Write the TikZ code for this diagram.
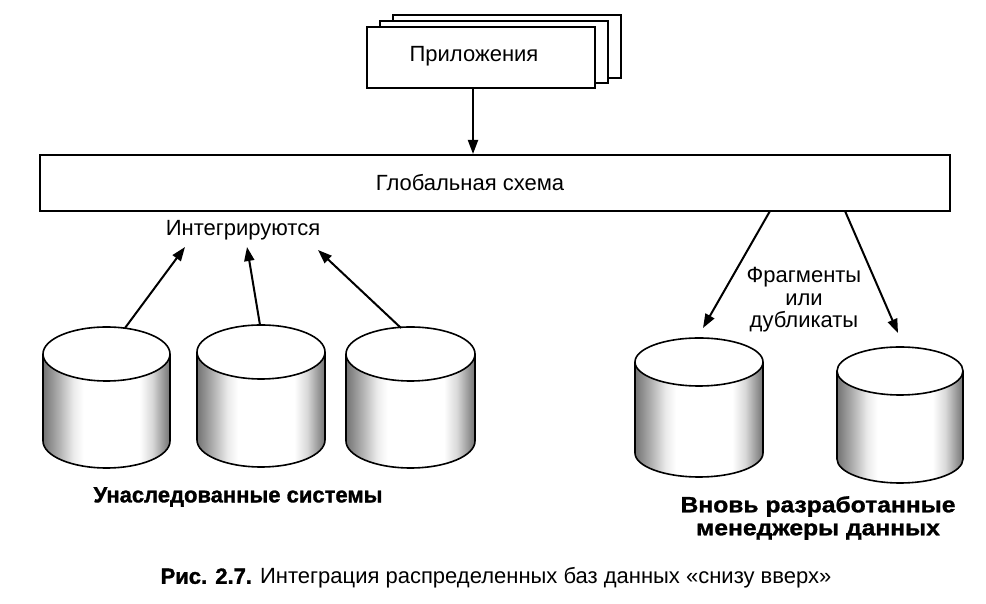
\documentclass[tikz,border=0pt]{standalone}
\usepackage{fontspec}
\setmainfont{Liberation Sans}
\newfontfamily\heavyfont[FakeBold=1.3]{Liberation Sans Bold}
\newfontfamily\heavywide[FakeBold=1.3,FakeStretch=1.12]{Liberation Sans Bold}
\usetikzlibrary{arrows.meta}
\pgfdeclarehorizontalshading{cylsh}{100bp}{color(0bp)=(black!55); color(25bp)=(black!55); color(31bp)=(black!32); color(37bp)=(black!8); color(41bp)=(white); color(63bp)=(white); color(68bp)=(black!15); color(72bp)=(black!38); color(75bp)=(black!55); color(100bp)=(black!55)}
\newcommand\dbcyl[5]{%
  \shade[shading=cylsh] (#1-#2,#3) -- (#1-#2,#4) arc[start angle=180,end angle=360,x radius=#2,y radius=#5] -- (#1+#2,#3) arc[start angle=0,end angle=180,x radius=#2,y radius=#5] -- cycle;
  \draw[line width=0.8pt] (#1-#2,#3) -- (#1-#2,#4) arc[start angle=180,end angle=360,x radius=#2,y radius=#5] -- (#1+#2,#3);
  \draw[line width=0.8pt,fill=white] (#1,#3) ellipse [x radius=#2, y radius=#5];
}
\begin{document}
\begin{tikzpicture}[x=0.5pt,y=0.5pt,
  box/.style={draw, fill=white, line width=1pt, inner sep=0pt},
  arr/.style={-{Triangle[length=7pt,width=5pt]}, line width=1pt},
  lbl/.style={font=\fontsize{11}{11.2}\selectfont, inner sep=0pt, align=center},
  blbl/.style={font=\heavyfont\fontsize{11}{11.5}\selectfont, inner sep=0pt, align=center}]
\useasboundingbox[fill=white] (0,0) rectangle (986,604);
% stacked application boxes
\draw[box] (393,526) rectangle (621,589);
\draw[box] (380,521) rectangle (608,583);
\node[box, minimum width=114pt, minimum height=30.5pt] (apps) at (481,546.5) {};
\node[lbl] (appstext) at (474,548) {Приложения};
% global schema
\node[box, minimum width=455pt, minimum height=28pt] (glob) at (495,421) {};
\node[lbl] (globtext) at (470,421) {Глобальная схема};
\coordinate (ax) at (473,0);
\draw[arr] (apps.south -| ax) -- (glob.north -| ax);
% cylinders
\dbcyl{106.5}{63.5}{250}{163}{27}
\dbcyl{261}{64}{252}{164}{27}
\dbcyl{410.5}{64.5}{250}{163}{27}
\dbcyl{699}{64}{242}{151}{24}
\dbcyl{900}{63}{233}{145}{24}
% labels
\node[lbl] (integ) at (243,374) {Интегрируются};
\node[lbl] (frag) at (804,304) {Фрагменты\\или\\дубликаты};
\node[blbl] (legacy) at (238,107) {Унаследованные системы};
\node[blbl, font=\heavywide\fontsize{11}{11.5}\selectfont] (newdm) at (818,86) {Вновь разработанные\\менеджеры данных};
\node[inner sep=0pt, font=\fontsize{11}{12}\selectfont] (cap) at (496,26) {{\heavyfont Рис. 2.7.} Интеграция распределенных баз данных «снизу вверх»};
% arrows legacy -> integrate
\coordinate (s1) at (125,276);
\coordinate (s2) at (260,279);
\coordinate (s3) at (401,276);
\coordinate (e1) at (185,357);
\coordinate (e2) at (247,357);
\coordinate (e3) at (318,354);
\draw[arr] (s1) -- (e1);
\draw[arr] (s2) -- (e2);
\draw[arr] (s3) -- (e3);
% arrows global -> new
\coordinate (g1) at (770,393);
\coordinate (g2) at (845,393);
\coordinate (f1) at (703,276);
\coordinate (f2) at (898,271);
\draw[arr] (g1) -- (f1);
\draw[arr] (g2) -- (f2);
\end{tikzpicture}
\end{document}
